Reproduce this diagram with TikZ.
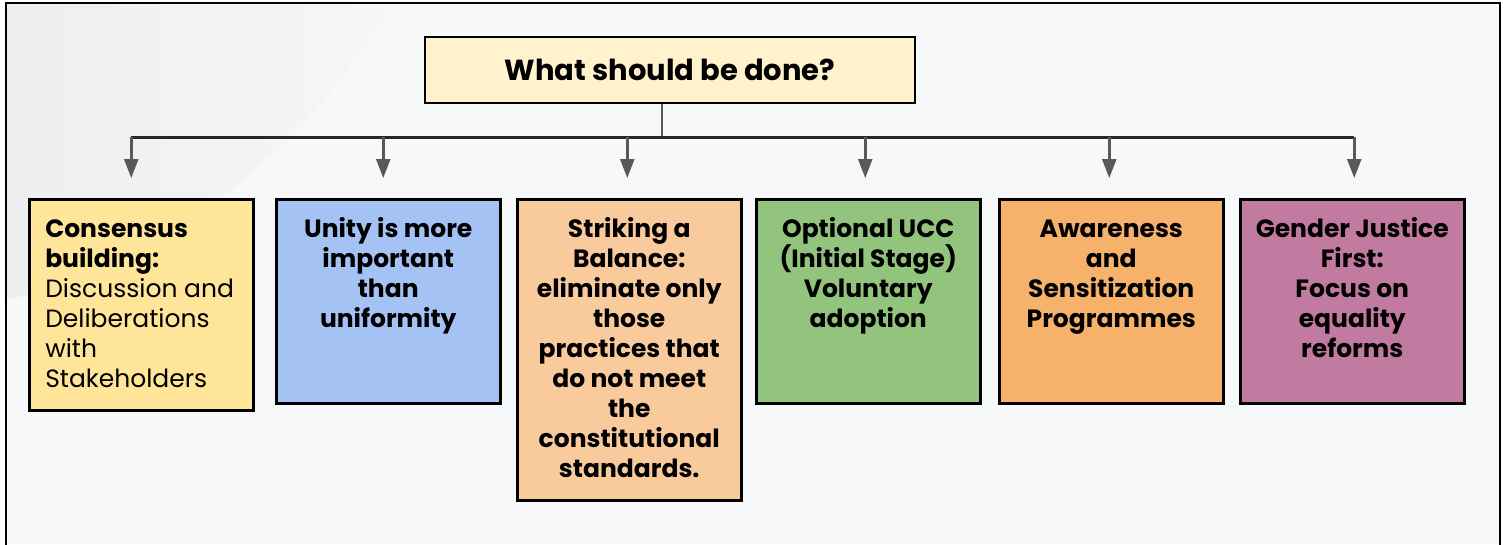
\documentclass[tikz,border=0pt]{standalone}
\usepackage{fontspec}
\setmainfont{Poppins}
\usetikzlibrary{arrows.meta, positioning}
\definecolor{pagebg}{HTML}{F7F8FA}
\definecolor{titlefill}{HTML}{FFF2CC}
\definecolor{cYellow}{HTML}{FFE599}
\definecolor{cBlue}{HTML}{A4C2F4}
\definecolor{cPeach}{HTML}{F9CB9C}
\definecolor{cGreen}{HTML}{93C47D}
\definecolor{cOrange}{HTML}{F6B26B}
\definecolor{cMauve}{HTML}{C27BA0}
\definecolor{linkgray}{HTML}{595959}
\newcommand{\optbox}[2]{\begin{minipage}[c][#1][t]{210pt}\vspace*{17pt}\lineskiplimit=-20pt\fontsize{25}{30}\selectfont\strut #2\end{minipage}}
\tikzset{
  heading/.style={draw=black, line width=2.5pt, fill=titlefill, minimum width=490pt, minimum height=66pt, font=\fontsize{29}{32}\selectfont\bfseries},
  option/.style={draw=black, line width=2.5pt, fill=#1, inner xsep=7pt, inner ysep=0pt, anchor=north west},
  feed/.style={draw=linkgray, line width=2.5pt, -{Triangle[width=14pt,length=19pt]}, shorten >=20pt},
}

\begin{document}
\begin{tikzpicture}[x=1pt, y=-1pt]
	\useasboundingbox (0,0) rectangle (1507,544);
	% background panel
	\begin{scope}
		\clip (6,3) rectangle (1500,544);
		\fill[pagebg] (6,3) rectangle (1500,544);
		\shade[left color=black!13, right color=pagebg] (-150,-300) circle (620pt);
	\end{scope}
	\draw[line width=2.5pt] (6,560) -- (6,3) -- (1500,3) -- (1500,560);

	\node[heading] (title) at (670,70) {What should be done?};

	\node[option=cYellow] (b1) at (28,198) {\optbox{211pt}{\raggedright\leftskip=9pt\bfseries Consensus\\building:\\\mdseries Discussion and\\Deliberations\\with\\Stakeholders}};
	\node[option=cBlue] (b2) at (275,198) {\optbox{204pt}{\centering\bfseries Unity is more\\important\\than\\uniformity}};
	\node[option=cPeach] (b3) at (516,198) {\optbox{301pt}{\centering\bfseries Striking a\\Balance:\\eliminate only\\those\\practices that\\do not meet\\the\\constitutional\\standards.}};
	\node[option=cGreen] (b4) at (755,198) {\optbox{204pt}{\centering\bfseries Optional UCC\\(Initial Stage)\\Voluntary\\adoption}};
	\node[option=cOrange] (b5) at (998,198) {\optbox{204pt}{\centering\bfseries Awareness\\and\\Sensitization\\Programmes}};
	\node[option=cMauve] (b6) at (1239,198) {\optbox{204pt}{\centering\bfseries Gender Justice\\First:\\Focus on\\equality\\reforms}};

	% connectors
	\coordinate (hub) at (662,137);
	\coordinate (busL) at ([xshift=-10pt]b1.north |- hub);
	\coordinate (busR) at ([xshift=2pt]b6.north |- hub);
	\draw[linkgray, line width=2.5pt] (title.south -| hub) -- (hub);
	\draw[black!85, line width=3pt] (busL) -- (busR);
	\foreach \n/\dx in {b1/-10, b2/-5, b3/-2, b4/-3, b5/-2, b6/2}
		\draw[feed] ([xshift=\dx pt]\n.north |- hub) -- ([xshift=\dx pt]\n.north);
\end{tikzpicture}
\end{document}
